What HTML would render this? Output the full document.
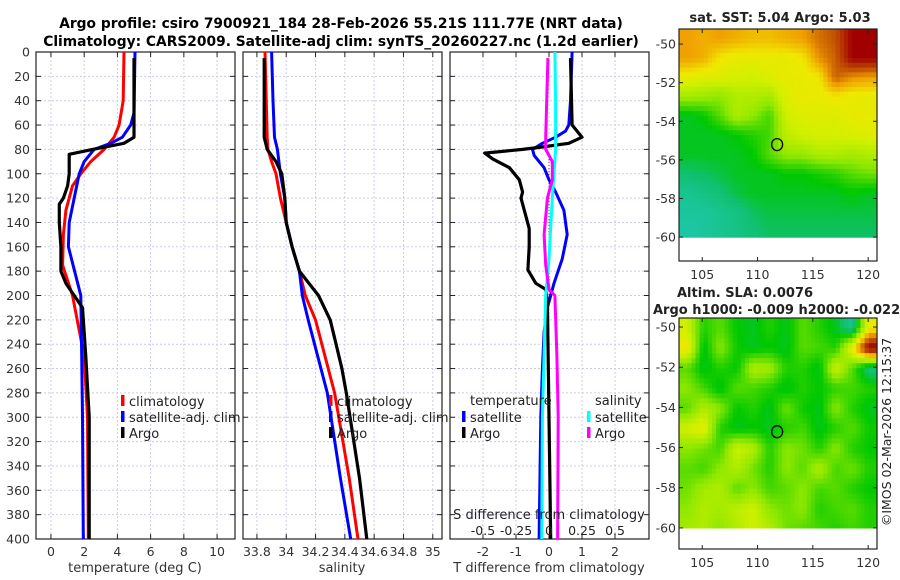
<!DOCTYPE html>
<html><head><meta charset="utf-8">
<style>
html,body{margin:0;padding:0;background:#fff;}
svg{display:block;font-family:"DejaVu Sans","Liberation Sans",sans-serif;}
</style></head>
<body>
<svg id="chart" width="900" height="580" viewBox="0 0 900 580" xmlns="http://www.w3.org/2000/svg">
<text x="341" y="28" text-anchor="middle" font-size="13.8" font-weight="bold">Argo profile: csiro 7900921_184 28-Feb-2026 55.21S 111.77E (NRT data)</text>
<text x="341" y="46" text-anchor="middle" font-size="13.8" font-weight="bold">Climatology: CARS2009. Satellite-adj clim: synTS_20260227.nc (1.2d earlier)</text>
<g id="g"></g>
</svg>
<script>
// ---- profile data (depth in m) ----
const tClimD=[0,40,60,70,80,90,100,110,130,150,175,200,250,300,400];
const tClimV=[4.4,4.35,4.1,3.8,3.2,2.4,1.8,1.3,0.9,0.75,0.7,1.3,2.0,2.2,2.25];
const tSatD=[0,50,60,70,75,80,90,100,120,140,160,200,250,300,400];
const tSatV=[5.06,5.0,4.8,4.3,3.6,2.6,2.0,1.7,1.4,1.1,1.05,1.8,1.85,1.9,1.95];
const tArgoD=[5,70,75,80,84,100,110,120,125,140,160,180,190,200,210,250,300,400];
const tArgoV=[5.0,5.0,4.4,2.5,1.1,1.1,1.0,0.75,0.5,0.5,0.6,0.6,0.9,1.4,1.9,2.1,2.3,2.3];
const sClimD=[0,70,80,90,100,120,140,160,180,200,220,280,350,400];
const sClimV=[33.855,33.87,33.875,33.9,33.93,33.96,34.0,34.04,34.09,34.13,34.2,34.33,34.43,34.49];
const sSatD=[0,40,70,80,90,100,120,140,160,180,200,220,280,350,400];
const sSatV=[33.9,33.91,33.92,33.94,33.95,33.96,33.99,34.0,34.04,34.09,34.11,34.15,34.28,34.37,34.44];
const sArgoD=[5,70,75,80,90,100,120,140,160,180,200,220,240,260,280,350,400];
const sArgoV=[33.85,33.85,33.86,33.87,33.93,33.97,33.99,34.0,34.04,34.09,34.22,34.3,34.34,34.38,34.41,34.5,34.55];
const dTSatD=[0,40,60,65,70,75,80,85,95,105,115,130,150,170,190,210,230,260,300,400];
const dTSatV=[0.7,0.65,0.6,0.5,0.2,-0.2,-0.5,-0.45,-0.15,0.0,0.2,0.45,0.55,0.4,0.15,-0.05,-0.15,-0.2,-0.25,-0.3];
const dTArgoD=[5,60,70,75,78,80,83,88,95,105,115,120,130,145,160,179,190,195,205,300,400];
const dTArgoV=[0.65,0.7,1.0,0.6,-0.2,-0.8,-1.95,-1.7,-1.2,-0.9,-0.8,-0.85,-0.75,-0.6,-0.6,-0.64,-0.4,-0.1,-0.05,0.0,0.05];
const dSSatD=[0,40,80,120,170,200,300,400];
const dSSatV=[0.045,0.05,0.05,0.025,0.0,-0.025,-0.05,-0.055];
const dSArgoD=[5,70,80,90,105,120,150,175,195,200,250,300,400];
const dSArgoV=[-0.008,-0.025,-0.025,0.025,0.025,-0.012,-0.037,-0.025,0.0,0.045,0.06,0.07,0.065];
// ---- axis ticks ----
const depthTicks=[0,20,40,60,80,100,120,140,160,180,200,220,240,260,280,300,320,340,360,380,400];
const tTicks=[0,2,4,6,8,10];
const sTicks=[33.8,34,34.2,34.4,34.6,34.8,35];
const dTTicks=[-2,-1,0,1,2];
const dSTicks=[-0.5,-0.25,0,0.25,0.5];
const dSTickLabels=["-0.5","-0.25","0","0.25","0.5"];
// ---- map data (rows from north, 12 cols, 1 deg lat rows) ----
const sstGrid=[
[0.72,0.7,0.72,0.7,0.68,0.68,0.7,0.72,0.78,0.82,0.95,0.97],
[0.72,0.7,0.62,0.6,0.6,0.6,0.6,0.62,0.74,0.8,0.95,0.95],
[0.6,0.58,0.58,0.56,0.55,0.58,0.6,0.6,0.62,0.8,0.74,0.72],
[0.48,0.47,0.45,0.5,0.5,0.48,0.58,0.6,0.6,0.62,0.6,0.6],
[0.3,0.32,0.4,0.5,0.45,0.38,0.55,0.58,0.58,0.58,0.6,0.6],
[0.3,0.3,0.3,0.32,0.35,0.38,0.52,0.55,0.56,0.56,0.57,0.58],
[0.3,0.3,0.3,0.3,0.32,0.4,0.46,0.46,0.5,0.5,0.48,0.5],
[0.25,0.26,0.28,0.3,0.3,0.3,0.32,0.32,0.34,0.36,0.4,0.42],
[0.2,0.22,0.24,0.28,0.3,0.3,0.3,0.3,0.3,0.3,0.32,0.3],
[0.18,0.18,0.2,0.22,0.26,0.28,0.28,0.28,0.28,0.28,0.28,0.28],
[0.17,0.18,0.2,0.22,0.24,0.26,0.26,0.26,0.26,0.26,0.26,0.26]];
const slaGrid=[
[0.55,0.35,0.4,0.32,0.3,0.35,0.3,0.4,0.35,0.3,0.2,0.6],
[0.62,0.3,0.45,0.33,0.3,0.32,0.3,0.4,0.38,0.35,0.6,0.97],
[0.4,0.3,0.35,0.32,0.5,0.48,0.35,0.35,0.3,0.55,0.4,0.22],
[0.45,0.38,0.3,0.4,0.38,0.35,0.3,0.35,0.32,0.36,0.38,0.35],
[0.4,0.5,0.45,0.32,0.35,0.3,0.42,0.33,0.3,0.45,0.35,0.3],
[0.55,0.6,0.35,0.3,0.32,0.3,0.35,0.38,0.3,0.35,0.4,0.33],
[0.45,0.42,0.38,0.55,0.5,0.35,0.45,0.42,0.35,0.45,0.35,0.32],
[0.4,0.38,0.45,0.5,0.42,0.35,0.45,0.4,0.5,0.38,0.42,0.35],
[0.42,0.48,0.5,0.4,0.45,0.38,0.4,0.45,0.38,0.4,0.35,0.32],
[0.45,0.5,0.48,0.52,0.55,0.45,0.42,0.45,0.35,0.38,0.4,0.35],
[0.48,0.5,0.45,0.5,0.55,0.5,0.42,0.4,0.38,0.35,0.38,0.35]];
const mapLonTicks=[105,110,115,120];
const mapLatTicks=[-50,-52,-54,-56,-58,-60];
const argoLon=111.77, argoLat=-55.21;

const NS="http://www.w3.org/2000/svg";
const G=document.getElementById('g');
function el(tag,attrs,parent){const e=document.createElementNS(NS,tag);for(const k in attrs)e.setAttribute(k,attrs[k]);(parent||G).appendChild(e);return e;}
const Y0=52,Y1=539;
function yD(d){return Y0+d*(Y1-Y0)/400;}
const P1={x0:36,x1:235,vmin:-0.9,vmax:11.08};
const P2={x0:243,x1:442,vmin:33.705,vmax:35.063};
const P3={x0:450,x1:649,vmin:-3,vmax:3.03};
function xv(P,v){return P.x0+(v-P.vmin)/(P.vmax-P.vmin)*(P.x1-P.x0);}

function panel(P,name,ticks,labels){
  const gp=el('g',{});
  
  
  depthTicks.forEach(d=>{const l=el('line',{x1:P.x0,x2:P.x1,y1:yD(d),y2:yD(d),stroke:'#c9cde6','stroke-width':1,'stroke-dasharray':'2,2'},gp);
    
    });
  ticks.forEach((t,i)=>{const x=xv(P,t);
    const l=el('line',{x1:x,x2:x,y1:Y0,y2:Y1,stroke:'#c9cde6','stroke-width':1,'stroke-dasharray':'2,2'},gp);
    
    
    el('line',{x1:x,x2:x,y1:Y1,y2:Y1-5,stroke:'#222'},gp);
    el('line',{x1:x,x2:x,y1:Y0,y2:Y0+5,stroke:'#222'},gp);
    const tx=el('text',{x:x,y:556,'text-anchor':'middle','font-size':12.5,fill:'#333'},gp);
    tx.textContent=labels?labels[i]:String(t);
    
    });
  depthTicks.forEach(d=>{el('line',{x1:P.x0,x2:P.x0+5,y1:yD(d),y2:yD(d),stroke:'#222'},gp);
    el('line',{x1:P.x1,x2:P.x1-5,y1:yD(d),y2:yD(d),stroke:'#222'},gp);});
  const r=el('rect',{x:P.x0,y:Y0,width:P.x1-P.x0,height:Y1-Y0,fill:'none',stroke:'#222','stroke-width':1.2},gp);
  
  
  return gp;
}
function series(P,D,V,color,w,name,scale){
  const pts=D.map((d,i)=>xv(P,V[i]*(scale||1)).toFixed(1)+','+yD(d).toFixed(1)).join(' ');
  const p=el('polyline',{points:pts,fill:'none',stroke:color,'stroke-width':w,'stroke-linejoin':'round'});
  
  
}
function txt(x,y,s,size,anchor,name,extra){
  const t=el('text',Object.assign({x:x,y:y,'font-size':size,'text-anchor':anchor||'start',fill:'#222'},extra||{}));
  t.textContent=s;
  
  
  return t;
}
function legendItem(x,y,color,label,name){
  const m=el('rect',{x:x-2,y:y-7,width:3.5,height:11,fill:color});
  
  
  txt(x+6,y+4,label,13,'start',name);
}

// Panel 1
panel(P1,'temperature-panel',tTicks);
depthTicks.forEach(d=>{txt(30,yD(d)+4.5,String(d),12.5,'end','depth-tick-label',{fill:'#333'});});
series(P1,tClimD,tClimV,'#ff0000',3,'temp-climatology-line');
series(P1,tSatD,tSatV,'#0000ff',3,'temp-satellite-line');
series(P1,tArgoD,tArgoV,'#000000',3.2,'temp-argo-line');
txt(135,572,'temperature (deg C)',13,'middle','temperature-axis-title',{fill:'#333'});
legendItem(123,402,'#ff0000','climatology','legend-climatology');
legendItem(123,418,'#0000ff','satellite-adj. clim','legend-satellite');
legendItem(123,434,'#000000','Argo','legend-argo');

// Panel 2
panel(P2,'salinity-panel',sTicks);
series(P2,sClimD,sClimV,'#ff0000',3,'sal-climatology-line');
series(P2,sSatD,sSatV,'#0000ff',3,'sal-satellite-line');
series(P2,sArgoD,sArgoV,'#000000',3.2,'sal-argo-line');
txt(342,572,'salinity',13,'middle','salinity-axis-title',{fill:'#333'});
legendItem(331,402,'#ff0000','climatology','legend-sal-climatology');
legendItem(331,418,'#0000ff','satellite-adj. clim','legend-sal-satellite');
legendItem(331,434,'#000000','Argo','legend-sal-argo');

// Panel 3
panel(P3,'difference-panel',dTTicks);
const dz=el('line',{x1:xv(P3,0),x2:xv(P3,0),y1:yD(88),y2:yD(200),stroke:'#333','stroke-width':1,'stroke-dasharray':'1,2'});


series(P3,dTSatD,dTSatV,'#0000ff',3,'tdiff-satellite-line');
series(P3,dTArgoD,dTArgoV,'#000000',3.2,'tdiff-argo-line');
series(P3,dSSatD,dSSatV,'#00ffff',3,'sdiff-satellite-line',4);
series(P3,dSArgoD,dSArgoV,'#ff00ff',3,'sdiff-argo-line',4);
txt(549,572,'T difference from climatology',13,'middle','tdiff-axis-title',{fill:'#333'});
txt(549,519,'S difference from climatology',13,'middle','sdiff-axis-title',{fill:'#222'});
dSTicks.forEach((s,i)=>{txt(xv(P3,s*4),535,dSTickLabels[i],12.5,'middle','sdiff-tick-label');});
txt(470,405,'temperature',13,'start','legend-temperature-header');
legendItem(464,418,'#0000ff','satellite','legend-tdiff-satellite');
legendItem(464,434,'#000000','Argo','legend-tdiff-argo');
txt(595,405,'salinity',13,'start','legend-salinity-header');
legendItem(589,418,'#00ffff','satellite','legend-sdiff-satellite');
legendItem(589,434,'#ff00ff','Argo','legend-sdiff-argo');

// ---- maps ----
const cstops=[[0.15,[32,200,176]],[0.25,[16,192,112]],[0.32,[0,200,0]],[0.45,[144,232,0]],[0.55,[208,240,0]],[0.62,[240,232,0]],[0.72,[240,160,0]],[0.82,[192,80,0]],[0.95,[160,0,0]]];
function cmap(v){
  if(v<=cstops[0][0])return 'rgb('+cstops[0][1]+')';
  for(let i=1;i<cstops.length;i++){if(v<=cstops[i][0]){const a=cstops[i-1],b=cstops[i];const f=(v-a[0])/(b[0]-a[0]);
    return 'rgb('+a[1].map((c,j)=>Math.round(c+(b[1][j]-c)*f)).join(',')+')';}}
  return 'rgb('+cstops[cstops.length-1][1]+')';
}
function sample(grid,r,c){
  const nr=grid.length,nc=grid[0].length;
  r=Math.max(0,Math.min(nr-1,r));c=Math.max(0,Math.min(nc-1,c));
  const r0=Math.floor(r),c0=Math.floor(c),r1=Math.min(nr-1,r0+1),c1=Math.min(nc-1,c0+1);
  const fr=r-r0,fc=c-c0;
  return grid[r0][c0]*(1-fr)*(1-fc)+grid[r0][c1]*(1-fr)*fc+grid[r1][c0]*fr*(1-fc)+grid[r1][c1]*fr*fc;
}
function drawMap(M,grid,name){
  const lx=lon=>M.x0+(lon-M.lon0)/(M.lon1-M.lon0)*(M.x1-M.x0);
  const ly=lat=>M.y0+(M.lat0-lat)/(M.lat0-M.lat1)*(M.y1-M.y0);
  const gm=el('g',{});
  
  
  const nr=grid.length,nc=grid[0].length,S=4;
  const dl=(M.lon1-M.lon0)/nc;
  for(let r=0;r<nr*S;r++)for(let c=0;c<nc*S;c++){
    const latTop=M.lat0-r/S, latBot=Math.max(M.lat0-(r+1)/S,-60);
    if(latTop<=-60)continue;
    const x=lx(M.lon0+c*dl/S),y=ly(latTop);
    const v=sample(grid,(r+0.5)/S-0.5,(c+0.5)/S-0.5);
    const cell=el('rect',{x:x.toFixed(1),y:y.toFixed(1),width:(lx(M.lon0+(c+1)*dl/S)-x+0.6).toFixed(1),height:(ly(latBot)-y+0.6).toFixed(1),fill:cmap(v)},gm);
    
    
  }
  const fr=el('rect',{x:M.x0,y:M.y0,width:M.x1-M.x0,height:M.y1-M.y0,fill:'none',stroke:'#222','stroke-width':1.2},gm);
  
  
  mapLatTicks.forEach(lat=>{const y=ly(lat);
    el('line',{x1:M.x0,x2:M.x0+4,y1:y,y2:y,stroke:'#222'},gm);el('line',{x1:M.x1,x2:M.x1-4,y1:y,y2:y,stroke:'#222'},gm);
    txt(M.x0-3,y+4.5,String(lat),12.5,'end','map-lat-label',{fill:'#333'});});
  mapLonTicks.forEach(lon=>{const x=lx(lon);
    el('line',{x1:x,x2:x,y1:M.y1,y2:M.y1-4,stroke:'#222'},gm);el('line',{x1:x,x2:x,y1:M.y0,y2:M.y0+4,stroke:'#222'},gm);
    txt(x,M.y1+18,String(lon),12.5,'middle','map-lon-label',{fill:'#333'});});
  const ci=el('ellipse',{cx:lx(argoLon),cy:ly(argoLat),rx:5.5,ry:6,fill:'none',stroke:'#000','stroke-width':1.3},gm);
  
  
}
drawMap({x0:679,x1:877,y0:29,y1:261,lon0:102.9,lon1:120.8,lat0:-49.22,lat1:-61.24},sstGrid,'sst-map');
drawMap({x0:679,x1:877,y0:318,y1:549,lon0:102.9,lon1:120.8,lat0:-49.55,lat1:-61.05},slaGrid,'sla-map');
txt(780,22,'sat. SST: 5.04 Argo: 5.03',13,'middle','sst-map-title',{'font-weight':'bold'});
txt(677,297,'Altim. SLA: 0.0076',13,'start','sla-map-title',{'font-weight':'bold'});
txt(653,314,'Argo h1000: -0.009 h2000: -0.022',13,'start','sla-map-subtitle',{'font-weight':'bold'});
txt(0,0,'©IMOS 02-Mar-2026 12:15:37',12.5,'middle','timestamp-credit',{transform:'translate(891,432) rotate(-90)'});
</script>
</body></html>
